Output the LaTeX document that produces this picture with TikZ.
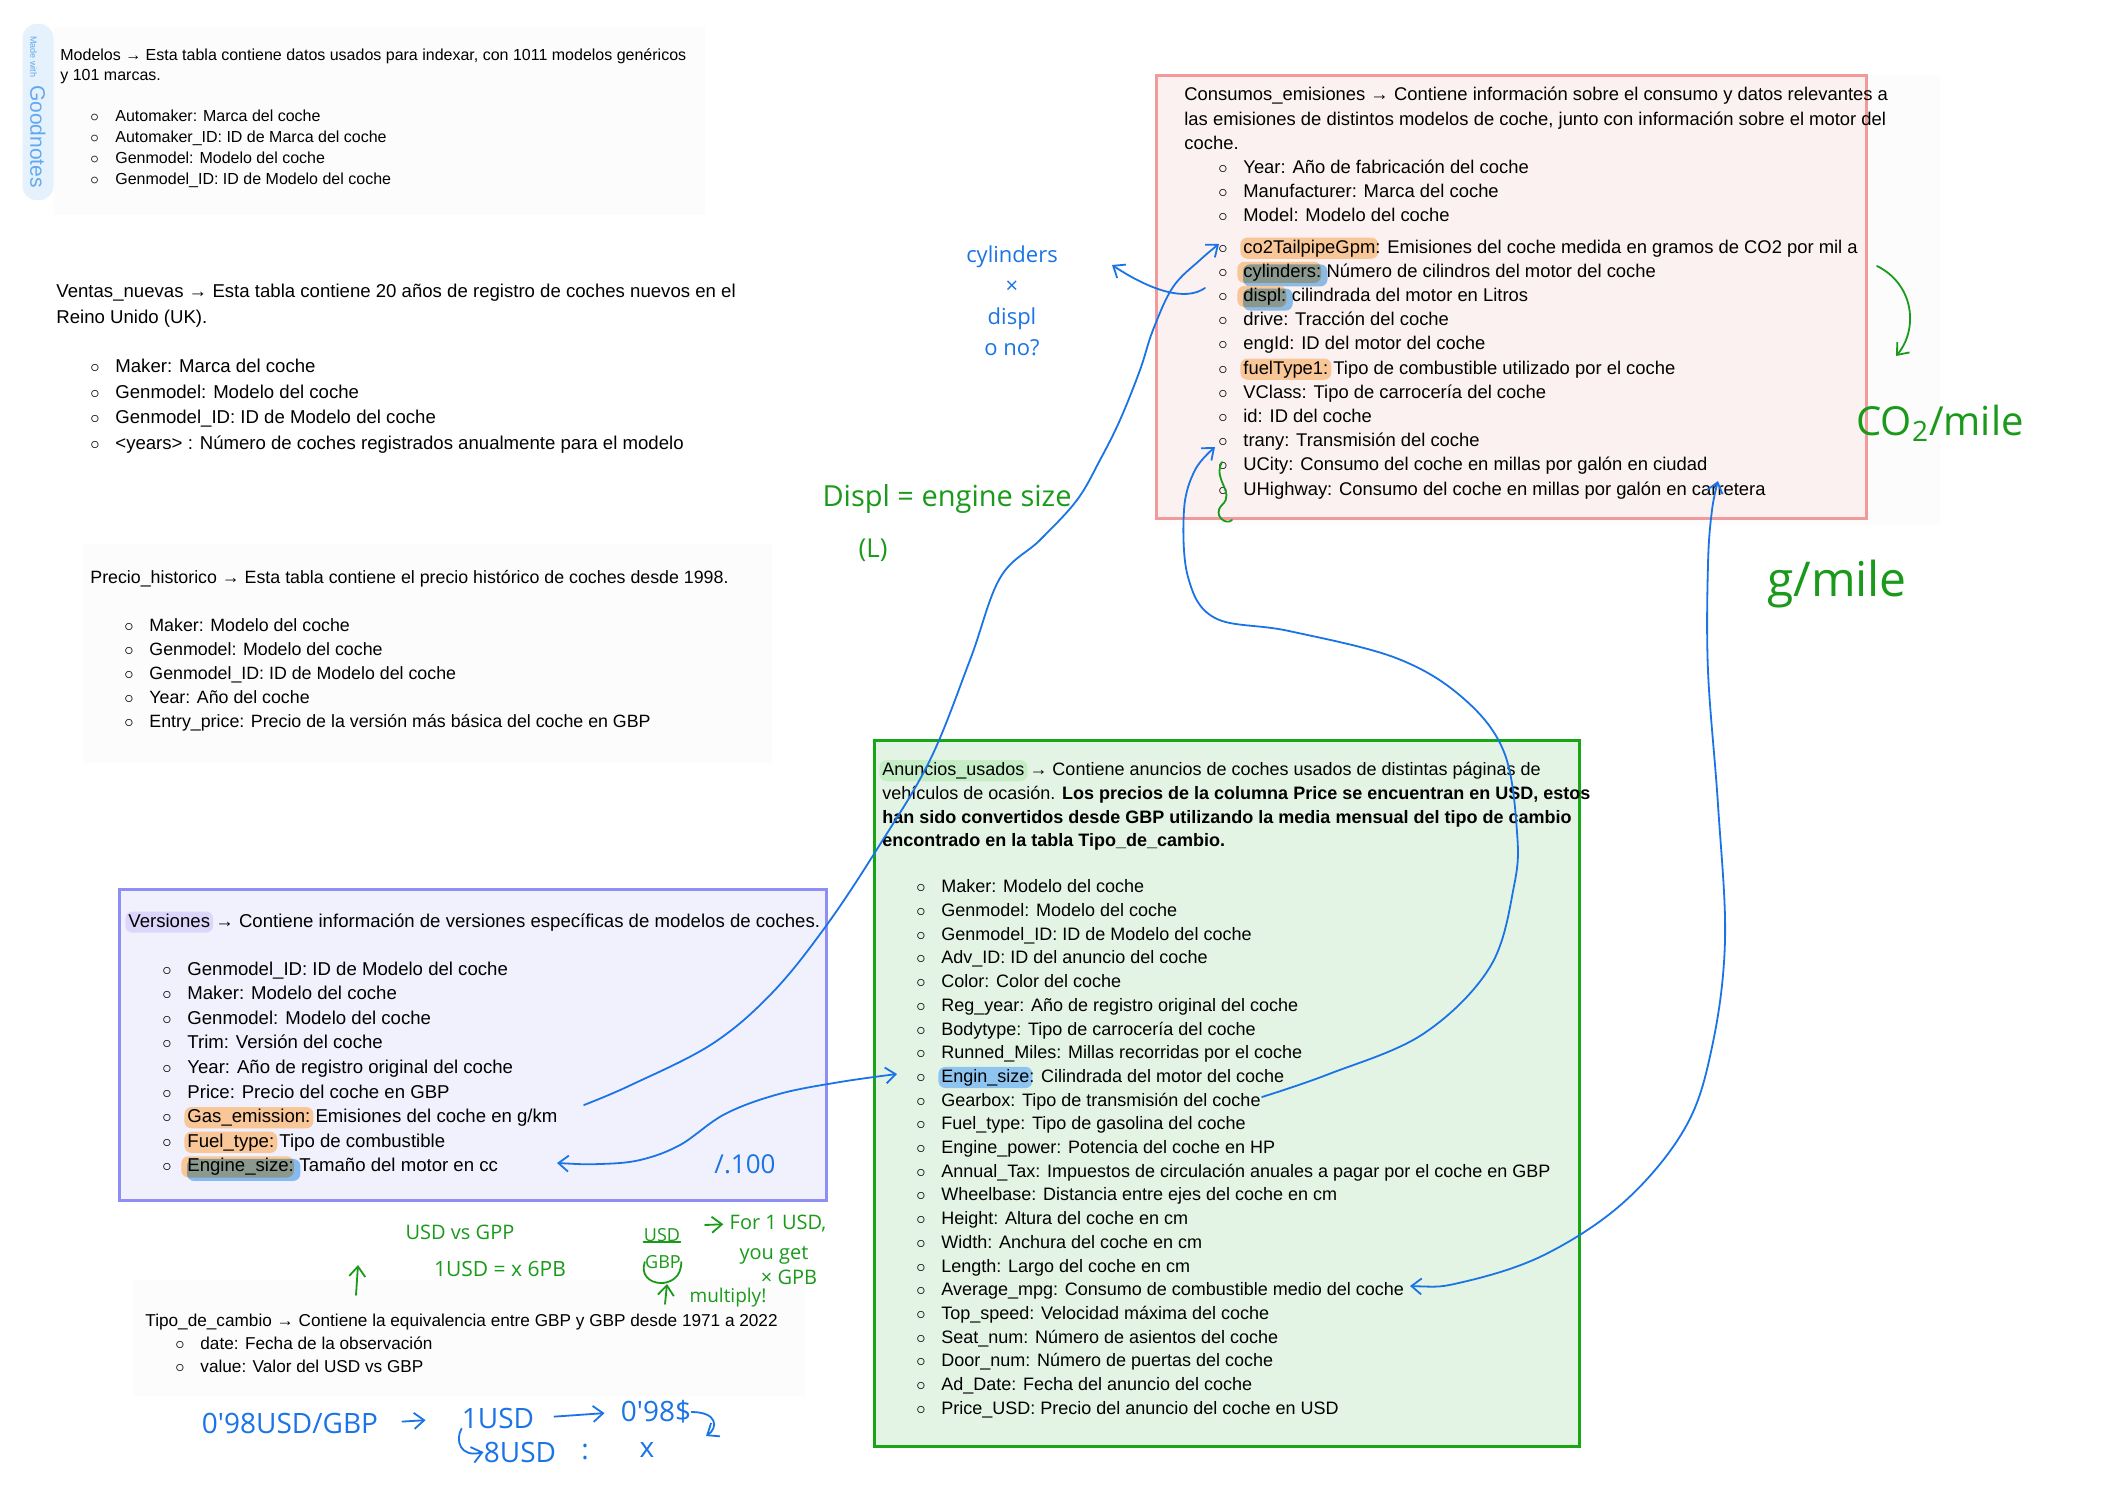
\documentclass[tikz,border=0pt]{standalone}
\usepackage{fontspec}
\setmainfont{Liberation Sans}
\newfontfamily\hand{Open Sans}
\usetikzlibrary{arrows.meta}

\definecolor{redline}{HTML}{F29A9A}
\definecolor{redfill}{HTML}{FCF1F1}
\definecolor{greenline}{HTML}{16A616}
\definecolor{greenfill}{HTML}{E4F4E4}
\definecolor{purpline}{HTML}{8E8EF4}
\definecolor{purpfill}{HTML}{F1F1FE}
\definecolor{paper}{HTML}{FCFCFC}
\definecolor{inkblue}{HTML}{1A74E6}
\definecolor{inkgreen}{HTML}{1A9A1A}
\definecolor{hlorange}{HTML}{F8C697}
\definecolor{hlblue}{HTML}{8EC5F0}
\definecolor{hlgreen}{HTML}{C6EEC6}
\definecolor{hlpurple}{HTML}{DCD6FA}
\definecolor{pillfill}{HTML}{E5F1FC}
\definecolor{pilltext}{HTML}{62A9EF}

\newcommand{\fs}[2]{\fontsize{#1}{#2}\selectfont}
\newcommand{\bul}[1][17pt]{\hspace*{#1}\makebox[12.5pt][l]{$\circ$}}
\tikzset{hlbox/.style={inner xsep=1.5pt, inner ysep=0.8pt, text height=7pt,
  text depth=2pt, rounded corners=3.5pt}}
% marker highlight, one colour
\newcommand{\hl}[2]{\hspace{-1.5pt}\smash{\tikz[baseline]\node[hlbox, fill=#1, anchor=base] (hlw) {#2};}\hspace{-1.5pt}}
% marker highlight, orange under blue
\newcommand{\hlb}[1]{\hspace{-3pt}\smash{\tikz[baseline]{%
  \node[hlbox, fill=hlorange, anchor=base, xshift=-1.5pt] (hlo) {\phantom{#1}};
  \fill[hlblue, blend mode=multiply, rounded corners=3.5pt]
    ([xshift=3pt, yshift=-1.5pt]hlo.south west) rectangle ([xshift=3pt, yshift=-1.5pt]hlo.north east);
  \node[hlbox, anchor=base] (hlt) {#1};}}\hspace{-3pt}}

\begin{document}
\begin{tikzpicture}[
  x=0.5pt, y=-0.5pt,
  tbl/.style = {anchor=north west, align=left, inner sep=0pt},
  box/.style = {line width=1.5pt},
  ink/.style = {draw=inkblue, line width=0.9pt, line cap=round, line join=round},
  gink/.style = {draw=inkgreen, line width=0.9pt, line cap=round, line join=round},
  note/.style = {text=inkblue, inner sep=0pt},
  gnote/.style = {text=inkgreen, inner sep=0pt},
  tip/.style = {-{Straight Barb[length=5pt,width=8pt]}},
  tips/.style = {{Straight Barb[length=5pt,width=8pt]}-{Straight Barb[length=5pt,width=8pt]}},
]
  \fill[white] (0,0) rectangle (2105,1489);
  \useasboundingbox (0,0) rectangle (2105,1489);

  % page backgrounds
  \fill[paper] (54,27) rectangle (705,215);
  \fill[paper] (83,544) rectangle (772,763);
  \fill[paper] (134,1280) rectangle (805,1396);
  \fill[paper] (1156,75) rectangle (1940,525);
  \draw[box, draw=redline, fill=redfill] (1156,75) rectangle (1866,518);
  \draw[box, draw=greenline, fill=greenfill] (874,740) rectangle (1579,1446);
  \draw[box, draw=purpline, fill=purpfill] (119,889) rectangle (826,1200);

  \node[fill=pillfill, text=pilltext, rounded corners=7pt, rotate=-90,
    minimum width=88pt, minimum height=15.5pt, inner sep=0pt] (badge) at (38,112)
    {{\fs{4.5}{5}Made with}\hspace{4pt}{\fs{10.5}{11}Goodnotes}};

  \node[tbl, font=\fs{8}{10.6}] (modelos) at (60,48)
    {Modelos → Esta tabla contiene datos usados para indexar, con 1011 modelos genéricos\\[-0.6pt]
     y 101 marcas.\\[9.9pt]
     \bul[15pt]Automaker: Marca del coche\\
     \bul[15pt]Automaker\_ID: ID de Marca del coche\\
     \bul[15pt]Genmodel: Modelo del coche\\
     \bul[15pt]Genmodel\_ID: ID de Modelo del coche};

  \node[tbl, font=\fs{9.3}{12.7}] (ventas) at (56,284)
    {Ventas\_nuevas → Esta tabla contiene 20 años de registro de coches nuevos en el\\[0.3pt]
     Reino Unido (UK).\\[11.8pt]
     \bul Maker: Marca del coche\\
     \bul Genmodel: Modelo del coche\\
     \bul Genmodel\_ID: ID de Modelo del coche\\
     \bul <years> : Número de coches registrados anualmente para el modelo};

  \node[tbl, font=\fs{8.9}{12}] (precio) at (90,570)
    {Precio\_historico → Esta tabla contiene el precio histórico de coches desde 1998.\\[12pt]
     \bul Maker: Modelo del coche\\
     \bul Genmodel: Modelo del coche\\
     \bul Genmodel\_ID: ID de Modelo del coche\\
     \bul Year: Año del coche\\
     \bul Entry\_price: Precio de la versión más básica del coche en GBP};

  \node[tbl, font=\fs{9.2}{12.1}] (consumos) at (1184,87)
    {Consumos\_emisiones → Contiene información sobre el consumo y datos relevantes a\\
     las emisiones de distintos modelos de coche, junto con información sobre el motor del\\
     coche.\\
     \bul Year: Año de fabricación del coche\\
     \bul Manufacturer: Marca del coche\\
     \bul Model: Modelo del coche\\[3.5pt]
     \bul \hl{hlorange}{co2TailpipeGpm}: Emisiones del coche medida en gramos de CO2 por mil a\\
     \bul \hlb{cylinders:} Número de cilindros del motor del coche\\
     \bul \hlb{displ:} cilindrada del motor en Litros\\
     \bul drive: Tracción del coche\\
     \bul engId: ID del motor del coche\\
     \bul \hl{hlorange}{fuelType1:} Tipo de combustible utilizado por el coche\\
     \bul VClass: Tipo de carrocería del coche\\
     \bul id: ID del coche\\
     \bul trany: Transmisión del coche\\
     \bul UCity: Consumo del coche en millas por galón en ciudad\\
     \bul UHighway: Consumo del coche en millas por galón en carretera};

  \node[tbl, font=\fs{9}{11.85}] (anuncios) at (882,762)
    {\hl{hlgreen}{Anuncios\_usados} → Contiene anuncios de coches usados de distintas páginas de\\
     vehículos de ocasión. \textbf{Los precios de la columna Price se encuentran en USD, estos}\\
     \textbf{han sido convertidos desde GBP utilizando la media mensual del tipo de cambio}\\
     \textbf{encontrado en la tabla Tipo\_de\_cambio.}\\[11.2pt]
     \bul Maker: Modelo del coche\\
     \bul Genmodel: Modelo del coche\\
     \bul Genmodel\_ID: ID de Modelo del coche\\
     \bul Adv\_ID: ID del anuncio del coche\\
     \bul Color: Color del coche\\
     \bul Reg\_year: Año de registro original del coche\\
     \bul Bodytype: Tipo de carrocería del coche\\
     \bul Runned\_Miles: Millas recorridas por el coche\\
     \bul \hl{hlblue}{Engin\_size}: Cilindrada del motor del coche\\
     \bul Gearbox: Tipo de transmisión del coche\\
     \bul Fuel\_type: Tipo de gasolina del coche\\
     \bul Engine\_power: Potencia del coche en HP\\
     \bul Annual\_Tax: Impuestos de circulación anuales a pagar por el coche en GBP\\
     \bul Wheelbase: Distancia entre ejes del coche en cm\\
     \bul Height: Altura del coche en cm\\
     \bul Width: Anchura del coche en cm\\
     \bul Length: Largo del coche en cm\\
     \bul Average\_mpg: Consumo de combustible medio del coche\\
     \bul Top\_speed: Velocidad máxima del coche\\
     \bul Seat\_num: Número de asientos del coche\\
     \bul Door\_num: Número de puertas del coche\\
     \bul Ad\_Date: Fecha del anuncio del coche\\
     \bul Price\_USD: Precio del anuncio del coche en USD};

  \node[tbl, font=\fs{9.3}{12.3}] (versiones) at (128,913)
    {\hl{hlpurple}{Versiones} → Contiene información de versiones específicas de modelos de coches.\\[11.7pt]
     \bul Genmodel\_ID: ID de Modelo del coche\\
     \bul Maker: Modelo del coche\\
     \bul Genmodel: Modelo del coche\\
     \bul Trim: Versión del coche\\
     \bul Year: Año de registro original del coche\\
     \bul Price: Precio del coche en GBP\\
     \bul \hl{hlorange}{Gas\_emission:} Emisiones del coche en g/km\\
     \bul \hl{hlorange}{Fuel\_type:} Tipo de combustible\\
     \bul \hlb{Engine\_size:} Tamaño del motor en cc};

  \node[tbl, font=\fs{8.6}{11.5}] (cambio) at (145,1314)
    {Tipo\_de\_cambio → Contiene la equivalencia entre GBP y GBP desde 1971 a 2022\\
     \bul[15pt]date: Fecha de la observación\\
     \bul[15pt]value: Valor del USD vs GBP};

  % handwritten notes
  \node[note, font=\hand\fs{11}{15.5}, align=center] (cylnote) at (1012,301)
    {cylinders\\×\\displ\\o no?};
  \node[gnote, font=\hand\fs{14.5}{16}] (displnote) at (947,499) {Displ = engine size};
  \node[gnote, font=\hand\fs{13}{15}] (litros) at (873,550) {(L)};
  \node[gnote, font=\hand\fs{20}{22}] (co2mile) at (1940,423) {CO\textsubscript{2}/mile};
  \node[gnote, font=\hand\fs{24}{26}] (gmile) at (1837,584) {g/mile};
  \node[note, font=\hand\fs{13}{15}] (pct) at (745,1164) {/.100};
  \node[gnote, font=\hand\fs{10}{12}] (usdvs) at (460,1232) {USD vs GPP};
  \node[gnote, font=\hand\fs{10.5}{12}] (usdeq) at (500,1269) {1USD = x 6PB};
  \node[gnote, font=\hand\fs{9}{12}] (fracusd) at (662,1235) {USD};
  \node[gnote, font=\hand\fs{9}{12}] (fracgbp) at (663,1262) {GBP};
  \node[gnote, font=\hand\fs{10}{12}] (for1) at (778,1224) {For 1 USD,};
  \node[gnote, font=\hand\fs{10}{12}] (youget) at (774,1255) {you get};
  \node[gnote, font=\hand\fs{10}{12}] (xgpb) at (789,1277) {× GPB};
  \node[gnote, font=\hand\fs{9.5}{12}] (multiply) at (728,1298) {multiply!};
  \node[note, font=\hand\fs{14}{16}] (rate) at (290,1423) {0'98USD/GBP};
  \node[note, font=\hand\fs{14}{16}] (oneusd) at (498,1418) {1USD};
  \node[note, font=\hand\fs{14}{16}] (ninety) at (656,1412) {0'98\$};
  \node[note, font=\hand\fs{14}{16}] (eightusd) at (520,1452) {8USD};
  \node[note, font=\hand\fs{14}{16}] (colon) at (585,1452) {:};
  \node[note, font=\hand\fs{14}{16}] (xval) at (647,1450) {x};

  % end points of the strokes
  \coordinate (gasE) at (584,1105);
  \coordinate (co2B) at (1219,244);
  \coordinate (cylS) at (1205,288);
  \coordinate (cylH) at (1112,265);
  \coordinate (engL) at (557,1163);
  \coordinate (engR) at (897,1074);
  \coordinate (gearE) at (1262,1097);
  \coordinate (tranyB) at (1215,447);
  \coordinate (mpgE) at (1410,1286);
  \coordinate (hwyB) at (1718,481);
  \coordinate (co2S) at (1877,266);
  \coordinate (co2H) at (1896,356);
  \coordinate (scrib) at (1222,462);

  \draw[ink, tip] plot[smooth, tension=0.6] coordinates {(gasE) (631,1085) (712,1044) (772,993)
    (826,926) (879,846) (930,760) (970,660) (1000,578) (1040,540) (1077,500) (1100,460)
    (1120,420) (1140,370) (1153,330) (1173,287) (1200,260) (co2B)};
  \draw[ink, tip] (cylS) .. controls (1185,302) and (1150,290) .. (cylH);
  \draw[ink, tips] plot[smooth, tension=0.6] coordinates {(engL) (600,1164) (640,1160) (680,1145)
    (725,1114) (779,1094) (840,1082) (engR)};
  \draw[ink, tip] plot[smooth, tension=0.6] coordinates {(gearE) (1329,1074) (1423,1034) (1490,967)
    (1514,886) (1517,832) (1504,752) (1463,698) (1396,658) (1289,631) (1215,618) (1188,577)
    (1184,510) (1195,470) (tranyB)};
  \draw[ink, tips] plot[smooth, tension=0.6] coordinates {(mpgE) (1463,1282) (1544,1255) (1624,1202)
    (1685,1128) (1712,1047) (1725,940) (1718,805) (1708,671) (1708,564) (1712,510) (hwyB)};
  \draw[gink, tip] (co2S) .. controls (1915,285) and (1918,330) .. (co2H);
  \draw[gink] (scrib) .. controls (1212,480) and (1236,492) .. (1222,505)
    .. controls (1212,515) and (1226,526) .. (1232,520);

  % exchange-rate scribbles
  \draw[gink, tip] (356,1295) -- (358,1265);
  \draw[gink] (fracusd.south west) -- (fracusd.south east);
  \draw[gink] (fracgbp.west) .. controls (636,1288) and (682,1292) .. (fracgbp.east);
  \draw[gink, tip] (665,1304) -- (667,1284);
  \draw[gink, tip, shorten >=3pt] (705,1225) -- (for1.west);
  \draw[ink, tip, shorten <=12pt, shorten >=18pt] (rate.east) -- (oneusd.west);
  \draw[ink, tip, shorten <=10pt, shorten >=8pt] (oneusd.east) -- (ninety.west);
  \draw[ink, tip] (oneusd.south west) .. controls (455,1440) and (460,1458) .. (eightusd.west);
  \draw[ink, tip] (ninety.east) .. controls (718,1412) and (718,1428) .. (706,1436);
\end{tikzpicture}
\end{document}
